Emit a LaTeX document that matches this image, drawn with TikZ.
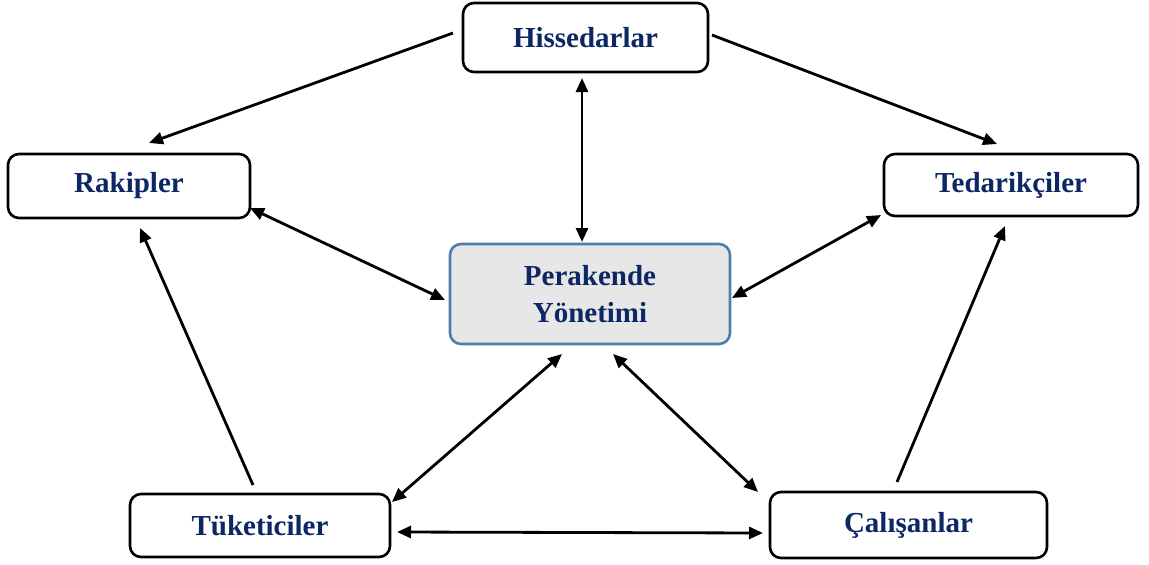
\documentclass[tikz,border=0pt]{standalone}
\usepackage{fontspec}
\setmainfont{Liberation Serif}
\usetikzlibrary{arrows.meta}
\definecolor{navy}{HTML}{0C2764}
\definecolor{pborder}{HTML}{4F7DAF}
\definecolor{pfill}{HTML}{E7E7E7}
\begin{document}
\begin{tikzpicture}[x=1pt,y=-1pt,
  box/.style={draw=black, line width=2.6pt, rounded corners=11pt, fill=white,
    font=\fontsize{29}{37}\selectfont\bfseries, text=navy, align=center, inner sep=0pt},
  centerbox/.style={box, draw=pborder, fill=pfill},
  tip/.tip={Triangle[length=14pt,width=12pt]},
  conn/.style={line width=2.8pt, -tip},
  dconn/.style={line width=2.8pt, tip-tip}]
\useasboundingbox (0,0) rectangle (1149,565);
\node[box, minimum width=245pt, minimum height=69pt] (h) at (585.5,37.5) {Hissedarlar};
\node[box, minimum width=242pt, minimum height=64pt] (r) at (129,186) {Rakipler};
\node[box, minimum width=254pt, minimum height=62pt] (t) at (1011,185) {Tedarikçiler};
\node[centerbox, minimum width=280pt, minimum height=100pt] (p) at (590,294) {Perakende\\Yönetimi};
\node[box, minimum width=260pt, minimum height=63pt] (tu) at (260,525.5) {Tüketiciler};
\node[box, minimum width=277pt, minimum height=66pt] (c) at (908.5,525) {Çalışanlar};

\draw[conn] ([shift={(-132.5,-4.5)}]h.center) -- ([shift={(20,-43)}]r.center);
\draw[conn] ([shift={(126.5,-2.5)}]h.center) -- ([shift={(-14,-41)}]t.center);
\draw[dconn] ([shift={(-3.5,40.5)}]h.center) -- ([shift={(-8,-52)}]p.center);
\draw[dconn] ([shift={(121,22)}]r.center) -- ([shift={(-145,6)}]p.center);
\draw[dconn] ([shift={(-130,30)}]t.center) -- ([shift={(142,4)}]p.center);
\draw[dconn] ([shift={(-28,60)}]p.center) -- ([shift={(132,-23.5)}]tu.center);
\draw[dconn] ([shift={(23,60)}]p.center) -- ([shift={(-150.5,-33)}]c.center);
\draw[dconn] ([shift={(137,6.5)}]tu.center) -- ([shift={(-145.5,8)}]c.center);
\draw[conn] ([shift={(-7,-40.5)}]tu.center) -- ([shift={(11,42)}]r.center);
\draw[conn] ([shift={(-11.5,-43)}]c.center) -- ([shift={(-6,41)}]t.center);
\end{tikzpicture}
\end{document}
